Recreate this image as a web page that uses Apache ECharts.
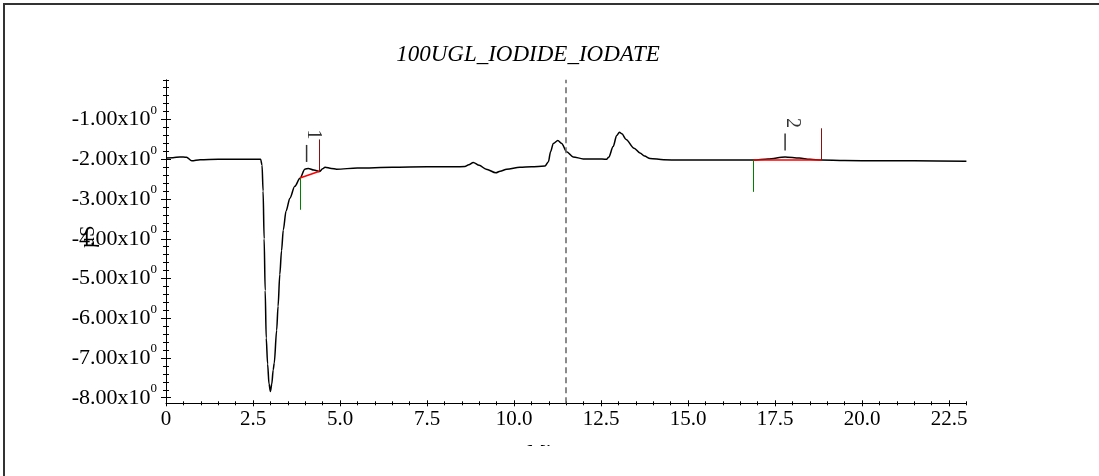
<!DOCTYPE html>
<html><head><meta charset="utf-8">
<script src="https://cdn.jsdelivr.net/npm/echarts@6/dist/echarts.min.js"></script>
<style>html,body{margin:0;padding:0;background:#fff}#c{width:1099px;height:476px}</style>
</head><body><div id="c"></div>
<script>
// ---- data ----
const timeMin = [0.00,0.20,0.40,0.59,0.74,0.98,1.50,2.00,2.50,2.72,2.76,2.79,2.82,2.85,2.88,2.92,2.96,3.00,3.04,3.08,3.11,3.18,3.22,3.27,3.32,3.37,3.45,3.56,3.70,3.85,3.99,4.09,4.25,4.41,4.50,4.57,4.75,4.90,5.50,6.50,7.50,8.30,8.59,8.70,8.83,9.00,9.20,9.48,9.60,9.79,10.17,10.50,10.89,10.99,11.05,11.13,11.26,11.37,11.51,11.70,11.99,12.40,12.66,12.72,12.85,12.95,13.03,13.10,13.22,13.45,13.62,13.75,13.91,14.30,14.77,15.50,16.50,16.88,17.30,17.79,18.20,18.50,18.84,19.50,20.50,21.50,23.00];
const signal  = [-1.97,-1.96,-1.94,-1.95,-2.04,-2.01,-2.00,-2.00,-2.00,-2.00,-2.15,-2.80,-4.00,-5.30,-6.50,-7.15,-7.65,-7.84,-7.65,-7.30,-7.13,-6.30,-5.70,-4.90,-4.30,-3.78,-3.30,-2.98,-2.68,-2.48,-2.25,-2.23,-2.27,-2.31,-2.24,-2.20,-2.23,-2.25,-2.22,-2.20,-2.19,-2.19,-2.18,-2.14,-2.08,-2.15,-2.25,-2.34,-2.30,-2.25,-2.20,-2.19,-2.17,-2.06,-1.81,-1.60,-1.53,-1.60,-1.81,-1.94,-1.99,-1.99,-2.00,-1.95,-1.68,-1.40,-1.32,-1.36,-1.50,-1.72,-1.84,-1.92,-1.98,-2.01,-2.02,-2.02,-2.02,-2.02,-1.99,-1.94,-1.97,-2.00,-2.02,-2.03,-2.04,-2.04,-2.05];

const xTicks = [0,2.5,5,7.5,10,12.5,15,17.5,20,22.5];
const xTickLabels = ['0','2.5','5.0','7.5','10.0','12.5','15.0','17.5','20.0','22.5'];
const yTicks = [-8,-7,-6,-5,-4,-3,-2,-1];
const yTickLabels = ['-8.00','-7.00','-6.00','-5.00','-4.00','-3.00','-2.00','-1.00'];
const xMinorTicks = [];
for (let k = 0; k <= 46; k++) xMinorTicks.push(k * 0.5);
const yMinorTicks = [];
for (let k = 0; k <= 40; k++) yMinorTicks.push(-8 + k * 0.2);

const peakNames  = ['1','2'];
const peakStartX = [3.85, 16.88];
const peakStartY = [-2.47, -2.02];
const peakEndX   = [4.41, 18.84];
const peakEndY   = [-2.30, -2.02];
const peakApexX  = [4.04, 17.79];
const peakApexY  = [-2.23, -1.94];
const injectMarkX = 11.49;
const markerLen = 0.8;

const titleText = '100UGL_IODIDE_IODATE';
const yName = 'µS';
const xName = 'Min';

// ---- chart ----
const F = '"Liberation Serif", "Times New Roman", serif';
const G = {left:166, top:79.8, width:800.4, height:323.5};
const X_MIN = 0, X_MAX = 23, Y_MIN = -8.14, Y_MAX = 0;

function xAx(i, ticks, len, inside, main) {
  return {
    type:'value', gridIndex:i, min:X_MIN, max:X_MAX, position:'bottom',
    splitLine:{show:false},
    axisLine:{show:main, onZero:false, lineStyle:{color:'#000', width:1}},
    axisTick:{show:true, customValues:ticks, length:len, inside:inside, lineStyle:{color:'#000', width:1}},
    axisLabel: main ? {show:true, customValues:xTicks, margin:6, color:'#000', fontFamily:F, fontSize:21,
      formatter: v => xTickLabels[xTicks.indexOf(v)]} : {show:false}
  };
}
function yAx(i, ticks, len, inside, main) {
  return {
    type:'value', gridIndex:i, min:Y_MIN, max:Y_MAX, position:'left',
    splitLine:{show:false},
    axisLine:{show:main, onZero:false, lineStyle:{color:'#000', width:1}},
    axisTick:{show:true, customValues:ticks, length:len, inside:inside, lineStyle:{color:'#000', width:1}},
    axisLabel: main ? {show:true, customValues:yTicks, margin:9,
      formatter: v => '{a|' + yTickLabels[yTicks.indexOf(v)] + 'x10}{b|0}',
      rich:{
        a:{fontFamily:F, fontSize:22, color:'#000', lineHeight:22, verticalAlign:'middle'},
        b:{fontFamily:F, fontSize:13, color:'#000', lineHeight:13, verticalAlign:'middle', padding:[0,0,18,0]}
      }} : {show:false}
  };
}

const markData = [
  {xAxis: injectMarkX, lineStyle:{type:[6,4], color:'#666', width:1.5}}
];
for (let i = 0; i < peakNames.length; i++) {
  markData.push([{coord:[peakStartX[i], peakStartY[i]], lineStyle:{color:'#008000', width:1, type:'solid'}},
                 {coord:[peakStartX[i], peakStartY[i] - markerLen]}]);
  markData.push([{coord:[peakStartX[i], peakStartY[i]], lineStyle:{color:'#ff0000', width:1.5, type:'solid'}},
                 {coord:[peakEndX[i], peakEndY[i]]}]);
  markData.push([{coord:[peakEndX[i], peakEndY[i]], lineStyle:{color:'#8b1010', width:1, type:'solid'}},
                 {coord:[peakEndX[i], peakEndY[i] + markerLen]}]);
}

const chart = echarts.init(document.getElementById('c'), null, {renderer:'canvas'});
chart.setOption({
  animation:false,
  backgroundColor:'#fff',
  grid:[G,G,G,G],
  xAxis:[xAx(0,xTicks,3,false,true), xAx(1,xTicks,3,true,false), xAx(2,xMinorTicks,2,false,false), xAx(3,xMinorTicks,2,true,false)],
  yAxis:[yAx(0,yTicks,5,false,true), yAx(1,yTicks,5,true,false), yAx(2,yMinorTicks,3,false,false), yAx(3,yMinorTicks,3,true,false)],
  series:[
    {
      type:'line', xAxisIndex:0, yAxisIndex:0,
      data: timeMin.map((t,i)=>[t, signal[i]]),
      showSymbol:false, smooth:0.3, smoothMonotone:'x',
      lineStyle:{color:'#000', width:1.5},
      markLine:{silent:true, symbol:['none','none'], label:{show:false}, data:markData}
    },
    {
      type:'scatter', xAxisIndex:0, yAxisIndex:0, silent:true,
      data: peakApexX.map((x,i)=>({value:[x, peakApexY[i]], name:peakNames[i]})),
      symbol:'rect', symbolSize:[1.5,17], symbolOffset:[0,-15],
      itemStyle:{color:'#000'},
      label:{show:true, formatter:'{b}', position:'inside', rotate:-90, offset:[-19,-6.7],
             fontFamily:F, fontSize:20, color:'#000'}
    }
  ],
  graphic:[
    {type:'rect', z:100, shape:{x:4, y:4, width:1300, height:1000}, style:{fill:null, stroke:'#333', lineWidth:2}},
    {type:'text', z:100, x:528, y:54.7, style:{text:titleText, font:'italic 23px ' + F, fill:'#000', align:'center', verticalAlign:'middle'}},
    {type:'text', z:100, x:89, y:237, rotation:Math.PI/2, style:{text:yName, font:'20px ' + F, fill:'#000', align:'center', verticalAlign:'middle'}},
    {type:'text', z:100, x:544.5, y:443, style:{text:xName, font:'21px ' + F, fill:'#000', align:'center', verticalAlign:'top'}},
    {type:'rect', z:101, shape:{x:6, y:446, width:1093, height:40}, style:{fill:'#fff'}}
  ]
});
</script>
</body></html>
